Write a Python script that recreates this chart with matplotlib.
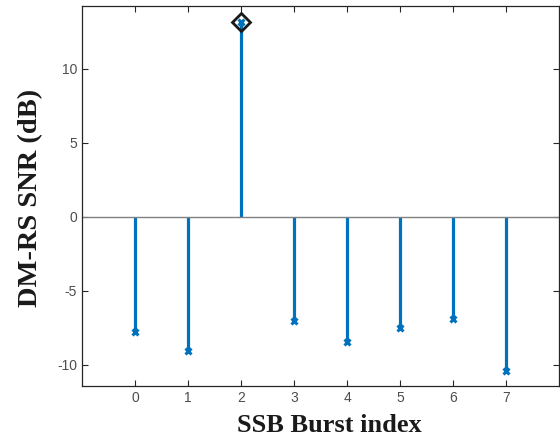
import matplotlib
matplotlib.use("Agg")
import matplotlib.pyplot as plt
import numpy as np

plt.rcParams["axes.unicode_minus"] = False

burst_index = [0, 1, 2, 3, 4, 5, 6, 7]
snr_db = [-7.8, -9.05, 13.2, -7.05, -8.5, -7.55, -6.9, -10.45]
x_ticks = [0, 1, 2, 3, 4, 5, 6, 7]
y_ticks = [-10, -5, 0, 5, 10]

blue = "#0072BD"
fig = plt.figure(figsize=(5.6, 4.44), dpi=100)
ax = fig.add_axes([82/560, 1 - 386/444, (559-82)/560, (386-6)/444])

markerline, stemlines, baseline = ax.stem(burst_index, snr_db)
plt.setp(stemlines, color=blue, linewidth=2.3)
plt.setp(markerline, color=blue, marker="x", markersize=5, markeredgewidth=2.2)
plt.setp(baseline, color="#808080", linewidth=1.0)
baseline.set_data([-1, 8], [0, 0])

imax = int(np.argmax(snr_db))
ax.plot(burst_index[imax], snr_db[imax], marker="D", markersize=9,
        markerfacecolor="none", markeredgecolor="#1a1a1a", markeredgewidth=2)

ax.set_xlim(-1, 8)
ax.set_ylim(-11.45, 14.25)
ax.set_xticks(x_ticks)
ax.set_yticks(y_ticks)
ax.tick_params(direction="in", top=True, right=True, length=4, width=0.8,
               labelsize=10, labelcolor="#4d4d4d", colors="#262626")
for lab in ax.get_xticklabels() + ax.get_yticklabels():
    lab.set_fontfamily("Liberation Sans")
    lab.set_color("#4d4d4d")
for s in ax.spines.values():
    s.set_color("#262626")
    s.set_linewidth(0.9)

ax.set_xlabel("SSB Burst index", fontfamily="Liberation Serif", fontweight="bold",
              fontsize=19, color="#1a1a1a")
ax.xaxis.set_label_coords((329.5-82)/477, -(414-386)/380)
ax.xaxis.label.set_verticalalignment("top")
ax.set_ylabel("DM-RS SNR (dB)", fontfamily="Liberation Serif", fontweight="bold",
              fontsize=20.5, color="#1a1a1a")
ax.yaxis.set_label_coords(-(82-43)/477, (386-198)/380)

fig.savefig("out.png", dpi=100)
